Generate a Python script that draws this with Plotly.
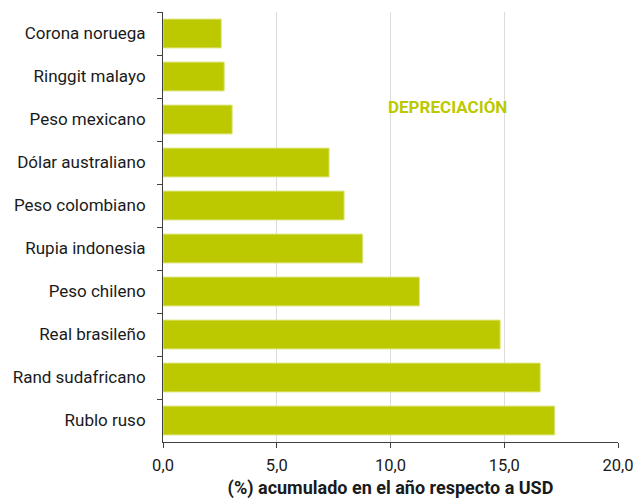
import plotly.graph_objects as go

categories = ["Corona noruega", "Ringgit malayo", "Peso mexicano", "Dólar australiano",
              "Peso colombiano", "Rupia indonesia", "Peso chileno", "Real brasileño",
              "Rand sudafricano", "Rublo ruso"]
values = [2.56, 2.69, 3.04, 7.30, 7.96, 8.78, 11.27, 14.82, 16.58, 17.22]
x_ticks = [0, 5, 10, 15, 20]
x_title = "(%) acumulado en el año respecto a USD"
note = "DEPRECIACIÓN"

GREEN = "#bcc900"
FONT = "Roboto, Liberation Sans, sans-serif"

fig = go.Figure(go.Bar(
    x=values, y=categories, orientation="h",
    marker=dict(color=GREEN, line=dict(color="#dde57c", width=1)),
))

fig.add_annotation(x=12.5, y=1.72, xref="x", yref="y", text="<b>" + note + "</b>",
                   showarrow=False, font=dict(color=GREEN, size=17, family=FONT))

fig.update_layout(
    width=637, height=499,
    margin=dict(l=163, r=19, t=12, b=57),
    paper_bgcolor="white", plot_bgcolor="white",
    separators=",.",
    bargap=0.33,
    showlegend=False,
    font=dict(family=FONT, size=17, color="#1a1a1a"),
)
fig.update_xaxes(
    range=[0, 20], tickvals=x_ticks, tickformat=".1f",
    showgrid=True, gridcolor="#dcdcdc", gridwidth=1,
    showline=True, linecolor="#404040", linewidth=1,
    ticks="outside", ticklen=5, tickcolor="#404040",
    zeroline=False, automargin=False, ticklabelstandoff=3,
    title=dict(text="<b>" + x_title + "</b>", font=dict(size=18), standoff=12),
    tickfont=dict(size=16.5),
)
fig.update_yaxes(
    autorange="reversed", categoryorder="array", categoryarray=categories,
    showline=True, linecolor="#404040", linewidth=1,
    ticks="outside", ticklen=5, tickcolor="#404040", tickson="boundaries",
    showgrid=False, tickfont=dict(size=17), ticklabelstandoff=13, automargin=False,
)

fig.write_html(
    "out.html",
    config={"displayModeBar": False},
    post_script="document.body.style.margin='0';document.body.style.overflow='hidden';",
)
